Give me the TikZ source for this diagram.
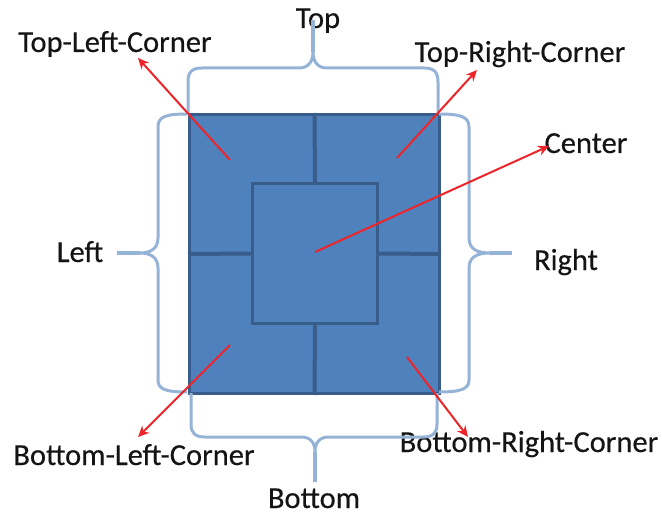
\documentclass[tikz,border=0pt]{standalone}
\usepackage{fontspec}
\setmainfont{Carlito}
\newfontfamily\lblfont{Carlito}[FakeBold=0.35]
\usetikzlibrary{arrows.meta}
\definecolor{cellfill}{RGB}{79,129,189}
\definecolor{cellline}{RGB}{56,93,138}
\definecolor{bracecol}{RGB}{149,179,215}
\definecolor{pointer}{RGB}{238,36,40}
\definecolor{labeltext}{RGB}{20,20,20}
\tikzset{
  brace/.style={draw=bracecol, line width=3pt, line join=round},
  bracestem/.style={draw=bracecol, line width=3.5pt},
  cellbox/.style={fill=cellfill, draw=cellline, line width=3pt},
  divider/.style={draw=cellline, line width=4pt},
  pointerarrow/.style={draw=pointer, line width=2pt, -{Stealth[length=11pt,width=10pt,inset=3.5pt]}},
  lbl/.style={font=\lblfont\fontsize{30.5}{33}\selectfont, text=labeltext, inner sep=0pt, anchor=base}
}
\begin{document}
\begin{tikzpicture}[x=1pt, y=-1pt]
\useasboundingbox (0,0) rectangle (662,516);

% outer region and inner centre cell
\node[cellbox, minimum width=250pt, minimum height=279pt, anchor=north west, inner sep=0pt] (region) at (188,113) {};
\node[cellbox, minimum width=125pt, minimum height=140pt, anchor=north west, inner sep=0pt] (middle) at (251,182) {};
\draw[divider] (region.north) -- (middle.north);
\draw[divider] (middle.south) -- (region.south);
\draw[divider] (region.west) -- (middle.west);
\draw[divider] (middle.east) -- (region.east);

% labels
\node[lbl] (top) at (318,28) {Top};
\node[lbl] (bottom) at (314,508) {Bottom};
\node[lbl] (left) at (80,262) {Left};
\node[lbl] (right) at (566,270) {Right};
\node[lbl] (tl) at (115,52) {Top-Left-Corner};
\node[lbl] (tr) at (520,62) {Top-Right-Corner};
\node[lbl] (center) at (586,153) {Center};
\node[lbl] (bl) at (134,465) {Bottom-Left-Corner};
\node[lbl] (br) at (529,452) {Bottom-Right-Corner};

% brace tips and the ends of their stems
\coordinate (toptip) at (313,52);
\coordinate (topend) at (313,20);
\coordinate (bottomtip) at (315,452);
\coordinate (bottomend) at (315,482);
\coordinate (lefttip) at (140,253);
\coordinate (leftend) at (117,253);
\coordinate (righttip) at (490,253);
\coordinate (rightend) at (512,253);

% top brace
\draw[brace] (188,113) -- (188,82) .. controls (188,72) and (192,68) .. (202,68)
  -- (299,68) .. controls (308,68) and (313,62) .. (toptip)
  .. controls (313,62) and (318,68) .. (327,68)
  -- (424,68) .. controls (434,68) and (438,72) .. (438,82) -- (438,113);
\draw[bracestem] (toptip) -- (topend);

% bottom brace
\draw[brace] (191,393) -- (191,424) .. controls (191,433) and (195,437) .. (205,437)
  -- (301,437) .. controls (310,437) and (315,442) .. (bottomtip)
  .. controls (315,442) and (320,437) .. (329,437)
  -- (423,437) .. controls (433,437) and (437,433) .. (437,424) -- (437,393);
\draw[bracestem] (bottomtip) -- (bottomend);

% left brace
\draw[brace] (187,114) .. controls (165,114) and (158,117) .. (158,127)
  -- (158,238) .. controls (158,249) and (150,253) .. (lefttip)
  .. controls (150,253) and (158,257) .. (158,268)
  -- (158,380) .. controls (158,389) and (165,392) .. (187,392);
\draw[bracestem] (lefttip) -- (leftend);

% right brace
\draw[brace] (439,114) .. controls (461,114) and (469,117) .. (469,127)
  -- (469,238) .. controls (469,249) and (477,253) .. (righttip)
  .. controls (477,253) and (469,257) .. (469,268)
  -- (469,380) .. controls (469,389) and (461,392) .. (439,392);
\draw[bracestem] (righttip) -- (rightend);

% pointer arrows
\coordinate (tlstart) at (230,160);
\coordinate (tlend) at (138,58);
\coordinate (trstart) at (397,158);
\coordinate (trend) at (477,70);
\coordinate (cstart) at (315,252);
\coordinate (cend) at (549,146);
\coordinate (blstart) at (230,345);
\coordinate (blend) at (138,437);
\coordinate (brstart) at (407,357);
\coordinate (brend) at (468,437);
\draw[pointerarrow] (tlstart) -- (tlend);
\draw[pointerarrow] (trstart) -- (trend);
\draw[pointerarrow] (cstart) -- (cend);
\draw[pointerarrow] (blstart) -- (blend);
\draw[pointerarrow] (brstart) -- (brend);
\end{tikzpicture}
\end{document}
